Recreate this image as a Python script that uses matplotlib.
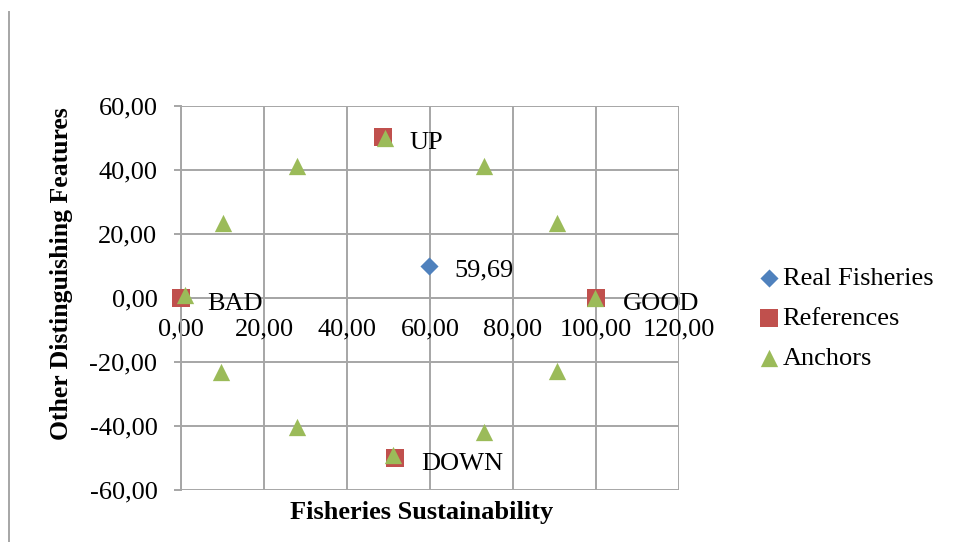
import numpy as np
import matplotlib.pyplot as plt
from matplotlib.ticker import FuncFormatter, MultipleLocator
from matplotlib.lines import Line2D

plt.rcParams['font.family'] = ['Liberation Serif', 'DejaVu Serif']

# data
real_x = [59.8]
real_y = [10.0]
real_labels = ['59,69']

ref_x = [0.0, 100.0, 48.7, 51.6]
ref_y = [0.0, 0.0, 50.3, -50.0]
ref_labels = ['BAD', 'GOOD', 'UP', 'DOWN']

anchor_x = [1.0, 10.0, 27.9, 49.2, 73.0, 90.6, 99.8, 90.6, 73.0, 51.2, 27.9, 9.6]
anchor_y = [0.9, 23.4, 41.2, 50.0, 41.2, 23.4, 0.0, -22.8, -41.8, -49.0, -40.2, -23.1]

W, H = 958, 542
fig = plt.figure(figsize=(W / 100, H / 100), dpi=100)
ax = fig.add_axes([181 / W, 1 - 490 / H, (679 - 181) / W, (490 - 106) / H])

grid_c = '#a6a6a6'
ax.scatter(real_x, real_y, marker='D', s=85, color='#4f81bd', zorder=3, label='Real Fisheries',
           linewidths=0, clip_on=False)
ax.scatter(ref_x, ref_y, marker='s', s=165, color='#c0504d', zorder=3, label='References',
           linewidths=0, clip_on=False)
ax.scatter(anchor_x, anchor_y, marker='^', s=155, color='#9bbb59', zorder=4, label='Anchors',
           linewidths=0, clip_on=False)

for x, y, t in zip(real_x, real_y, real_labels):
    ax.annotate(t, (x, y), xytext=(18, -3.5), textcoords='offset points', va='center', fontsize=19)
for x, y, t in zip(ref_x, ref_y, ref_labels):
    ax.annotate(t, (x, y), xytext=(19, -4.5), textcoords='offset points', va='center', fontsize=19)

ax.set_xlim(0, 120)
ax.set_ylim(-60, 60)
ax.xaxis.set_major_locator(MultipleLocator(20))
ax.yaxis.set_major_locator(MultipleLocator(20))
fmt = FuncFormatter(lambda v, p: f'{v:.2f}'.replace('.', ','))
ax.xaxis.set_major_formatter(fmt)
ax.yaxis.set_major_formatter(fmt)
ax.grid(True, color=grid_c, linewidth=1.4)
ax.set_axisbelow(True)

for s in ['top', 'right']:
    ax.spines[s].set_visible(False)
ax.spines['bottom'].set_position(('data', 0))
ax.spines['bottom'].set_color(grid_c)
ax.spines['left'].set_color(grid_c)
ax.spines['left'].set_linewidth(1.4)
ax.spines['bottom'].set_linewidth(1.4)
ax.tick_params(axis='y', length=5, width=1.4, color=grid_c, labelsize=19, pad=12)
ax.tick_params(axis='x', length=5, width=1.4, color=grid_c, labelsize=19, pad=10)

fig.text(422 / W, 1 - 513 / H, 'Fisheries Sustainability', ha='center', va='center',
         fontsize=19, fontweight='bold')
fig.text(62 / W, 1 - 274 / H, 'Other Distinguishing Features', ha='center', va='center',
         rotation=90, fontsize=18.5, fontweight='bold')

fig.legend(loc='center left', bbox_to_anchor=(743 / W, 1 - 318 / H), frameon=False,
           fontsize=19, handletextpad=0.0, labelspacing=0.62, markerscale=1.0,
           borderpad=0, handlelength=1.0)

fig.add_artist(Line2D([9 / W, 9 / W], [0, 1 - 12 / H], color='#a6a6a6', linewidth=1.4))

fig.savefig('out.png', dpi=100)
